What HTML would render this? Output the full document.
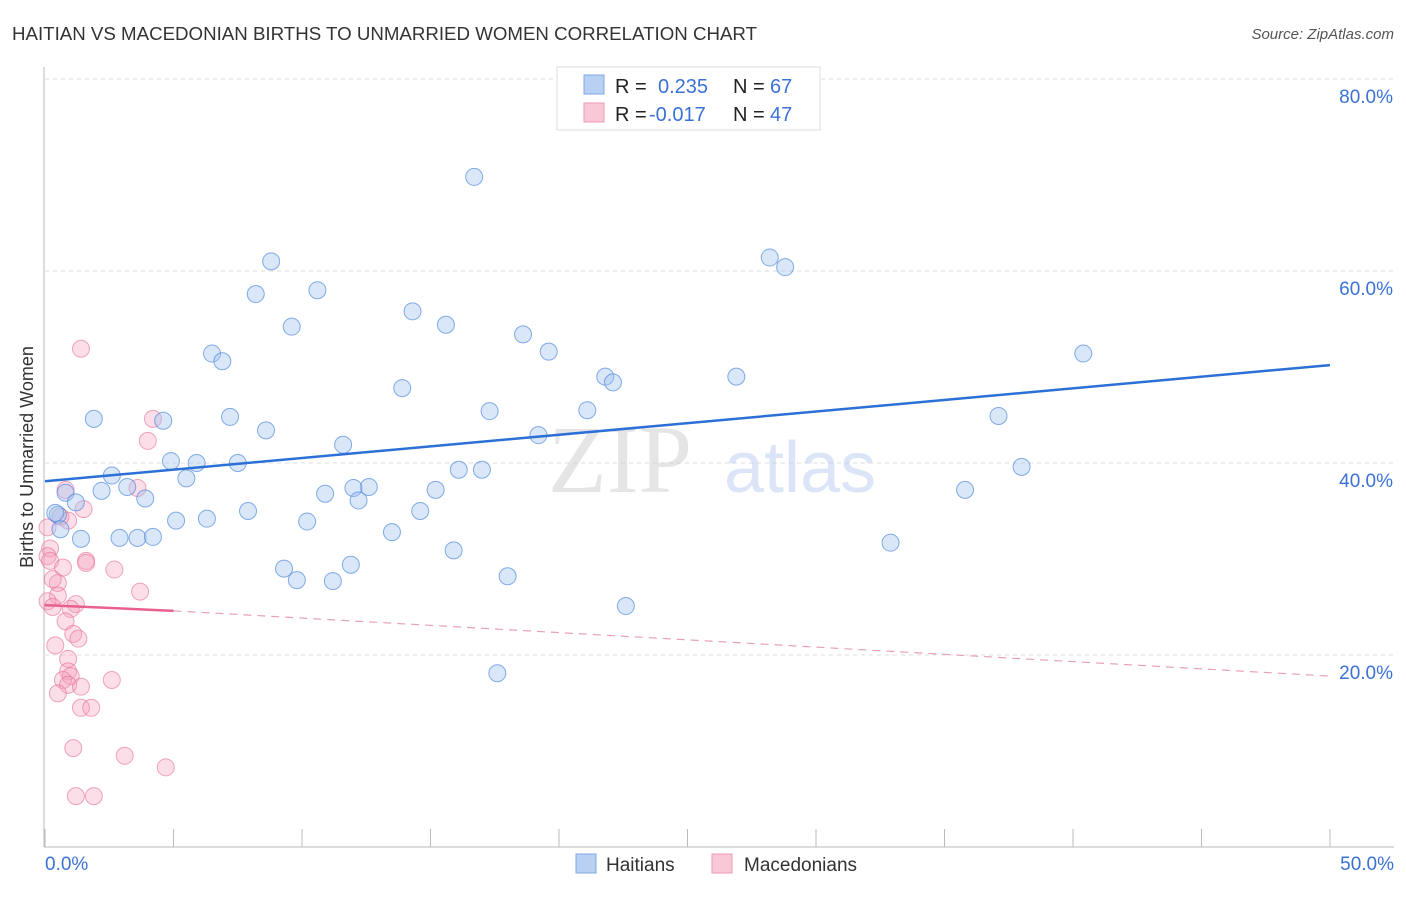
<!DOCTYPE html>
<html><head><meta charset="utf-8"><style>
body{margin:0;background:#fff;font-family:"Liberation Sans",sans-serif}
</style></head><body>
<svg width="1406" height="892" xmlns="http://www.w3.org/2000/svg">
<text x="12" y="40" font-size="18" fill="#333" textLength="745" lengthAdjust="spacingAndGlyphs">HAITIAN VS MACEDONIAN BIRTHS TO UNMARRIED WOMEN CORRELATION CHART</text>
<text x="1394" y="39" font-size="15" fill="#555" font-style="italic" text-anchor="end">Source: ZipAtlas.com</text>
<g id="grid"></g>
<line x1="44" y1="67" x2="44" y2="847" stroke="#bbb"/>
<line x1="44" y1="847" x2="1394" y2="847" stroke="#bbb"/>
<text x="33" y="457" font-size="18" fill="#333" text-anchor="middle" transform="rotate(-90 33 457)">Births to Unmarried Women</text>
<text x="620" y="492" font-size="96" fill="#ccc" opacity="0.5" font-family="Liberation Serif" text-anchor="middle">ZIP</text>
<text x="800" y="492" font-size="72" fill="#b8cdf0" opacity="0.5" text-anchor="middle">atlas</text>
<g id="ticks"></g>
<g id="pts"></g>
<g id="trends"></g>
<rect x="557" y="67" width="263" height="63" fill="#fff" stroke="#ddd"/>
<rect x="584" y="75" width="20" height="19" fill="#b8d1f3" stroke="#7fa8e6"/>
<rect x="584" y="103" width="20" height="19" fill="#f9c8d6" stroke="#ef9ab3"/>
<g font-size="20" fill="#222">
<text x="615" y="93">R = </text><text x="658" y="93" fill="#3b72d6">0.235</text>
<text x="733" y="93">N = </text><text x="770" y="93" fill="#3b72d6">67</text>
<text x="615" y="121">R = </text><text x="649" y="121" fill="#3b72d6">-0.017</text>
<text x="733" y="121">N = </text><text x="770" y="121" fill="#3b72d6">47</text>
</g>
<rect x="576" y="854" width="20" height="19" fill="#b8d1f3" stroke="#7fa8e6"/>
<text x="606" y="871" font-size="19" fill="#333">Haitians</text>
<rect x="712" y="854" width="20" height="19" fill="#f9c8d6" stroke="#ef9ab3"/>
<text x="744" y="871" font-size="19" fill="#333">Macedonians</text>
</svg>
<script>
const yTicks=[20,40,60,80];
const yTickLabels=["20.0%","40.0%","60.0%","80.0%"];
const xEndLabels=["0.0%","50.0%"];
const blueX=[16.7,8.8,28.2,28.8,8.2,10.6,9.6,14.3,15.6,18.6,6.5,6.9,19.6,40.4,21.8,22.1,26.9,13.9,1.9,4.6,7.2,17.3,21.1,37.1,8.6,11.6,19.2,4.9,5.9,7.5,16.1,17.0,38.0,2.6,5.5,0.8,2.2,3.2,3.9,12.6,12.0,15.2,10.9,12.2,35.8,1.2,0.5,0.4,7.9,14.6,5.1,6.3,10.2,3.6,13.5,1.4,2.9,4.2,32.9,15.9,9.3,11.9,9.8,11.2,18.0,22.6,17.6,0.6];
const blueY=[69.8,61.0,61.4,60.4,57.6,58.0,54.2,55.8,54.4,53.4,51.4,50.6,51.6,51.4,49.0,48.4,49.0,47.8,44.6,44.4,44.8,45.4,45.5,44.9,43.4,41.9,42.9,40.2,40.0,40.0,39.3,39.3,39.6,38.7,38.4,36.9,37.1,37.5,36.3,37.5,37.4,37.2,36.8,36.1,37.2,35.9,34.6,34.8,35.0,35.0,34.0,34.2,33.9,32.2,32.8,32.1,32.2,32.3,31.7,30.9,29.0,29.4,27.8,27.7,28.2,25.1,18.1,33.1];
const pinkX=[1.4,4.2,4.0,3.6,1.5,0.8,0.9,0.6,0.1,0.2,0.1,0.2,2.7,1.6,1.6,0.7,0.5,3.7,0.3,0.5,0.1,0.3,1.2,1.0,0.8,1.1,1.3,0.4,0.9,0.9,1.0,0.7,0.9,1.4,2.6,0.5,1.4,1.8,1.1,3.1,4.7,1.2,1.9];
const pinkY=[51.9,44.6,42.3,37.4,35.2,37.2,34.0,34.4,33.3,31.1,30.3,29.8,28.9,29.8,29.6,29.1,27.5,26.6,27.9,26.2,25.6,25.0,25.3,24.8,23.5,22.2,21.7,21.0,19.6,18.3,17.8,17.4,16.9,16.7,17.4,16.0,14.5,14.5,10.3,9.5,8.3,5.3,5.3];
const blueTrend=[[0,38.1],[50,50.2]];
const pinkTrendSolid=[[0,25.2],[5,24.6]];
const pinkTrendDash=[[5,24.6],[50,17.8]];
const X=v=>45+v*25.7, Y=v=>847-v*9.6;
const NS="http://www.w3.org/2000/svg";
function mk(tag,attrs,parent){const e=document.createElementNS(NS,tag);for(const k in attrs)e.setAttribute(k,attrs[k]);parent.appendChild(e);return e;}
const grid=document.getElementById('grid'),ticks=document.getElementById('ticks'),pts=document.getElementById('pts'),tr=document.getElementById('trends');
yTicks.forEach((t,i)=>{
 const l=mk('line',{x1:45,x2:1394,y1:Y(t),y2:Y(t),stroke:'#ddd','stroke-dasharray':'4,4'},grid);
 
 
 const tx=mk('text',{x:1393,y:Y(t)+24,'font-size':19,fill:'#3b72d6','text-anchor':'end'},ticks);
 tx.textContent=yTickLabels[i];
 
 
});
for(let i=0;i<=10;i++){
 const l=mk('line',{x1:X(i*5),x2:X(i*5),y1:829,y2:847,stroke:'#bbb'},ticks);
 
 
}
[[0,'start',45],[1,'end',1394]].forEach(([i,a,x])=>{
 const tx=mk('text',{x:x,y:870,'font-size':19,fill:'#3b72d6','text-anchor':a},ticks);
 tx.textContent=xEndLabels[i];
 
 
});
pinkX.forEach((v,i)=>{
 const c=mk('circle',{cx:X(v),cy:Y(pinkY[i]),r:8.5,fill:'rgba(244,160,188,0.35)',stroke:'rgba(232,110,150,0.6)','stroke-width':1},pts);
 
 
});
blueX.forEach((v,i)=>{
 const c=mk('circle',{cx:X(v),cy:Y(blueY[i]),r:8.5,fill:'rgba(160,195,240,0.4)',stroke:'rgba(70,130,220,0.65)','stroke-width':1},pts);
 
 
});
const bl=mk('line',{x1:X(blueTrend[0][0]),y1:Y(blueTrend[0][1]),x2:X(blueTrend[1][0]),y2:Y(blueTrend[1][1]),stroke:'#2c6fd6','stroke-width':2.5},tr);


const pl=mk('line',{x1:X(pinkTrendSolid[0][0]),y1:Y(pinkTrendSolid[0][1]),x2:X(pinkTrendSolid[1][0]),y2:Y(pinkTrendSolid[1][1]),stroke:'#e8608c','stroke-width':2.5},tr);


const pd=mk('line',{x1:X(pinkTrendDash[0][0]),y1:Y(pinkTrendDash[0][1]),x2:X(pinkTrendDash[1][0]),y2:Y(pinkTrendDash[1][1]),stroke:'#e8a0b8','stroke-width':1.2,'stroke-dasharray':'8,6'},tr);


</script>
</body></html>
